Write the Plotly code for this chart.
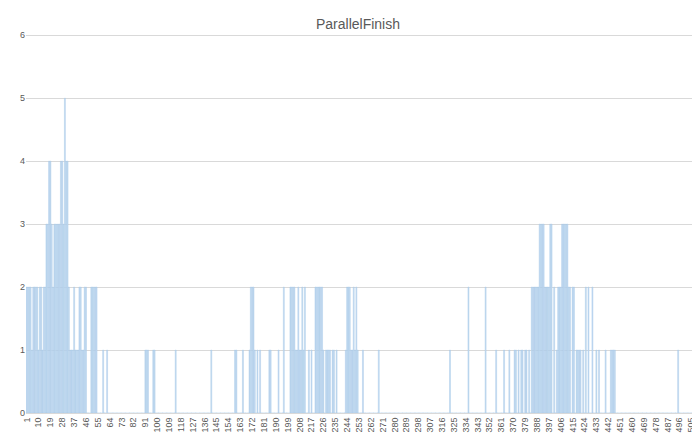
import plotly.graph_objects as go

# run number 1..505
runs = list(range(1, 506))

# nonzero counts (run -> value); all other runs are 0
hit_runs = [1, 2, 3, 4, 5, 6, 7, 8, 9, 10, 11, 12, 13, 14, 15, 16, 17, 18, 19, 20,
            21, 22, 23, 24, 25, 26, 27, 28, 29, 30, 31, 32, 33, 34, 35, 36, 37, 38, 39, 40,
            41, 42, 43, 44, 45, 46, 50, 51, 52, 53, 54, 59, 62,
            91, 92, 93, 97, 98, 114, 141, 159, 160, 165,
            170, 171, 172, 173, 174, 176, 178, 185, 186, 192, 196,
            201, 202, 203, 204, 205, 206, 207, 208, 209, 210, 211, 212,
            215, 217, 220, 221, 222, 223, 224, 225, 226, 228, 229, 230, 231, 233, 234, 236,
            243, 244, 245, 246, 247, 248, 249, 250, 251, 252, 256, 268,
            322, 336, 349, 357, 363, 367, 371, 372, 374, 376, 377, 379, 380, 382,
            384, 385, 386, 387, 388, 389, 390, 391, 392, 393, 394, 395, 396, 397, 398, 399,
            401, 403, 404, 405, 406, 407, 408, 409, 410, 411, 412, 413, 415, 416,
            418, 419, 420, 421, 423, 425, 427, 430, 433, 435, 440, 444, 445, 446, 447, 495]
hit_vals = [2, 2, 2, 2, 1, 2, 2, 2, 2, 1, 2, 2, 1, 2, 2, 3, 3, 4, 4, 3,
            2, 3, 3, 3, 3, 3, 4, 4, 3, 5, 4, 4, 2, 1, 1, 1, 2, 1, 1, 1,
            2, 2, 1, 1, 2, 2, 2, 2, 2, 2, 2, 1, 1,
            1, 1, 1, 1, 1, 1, 1, 1, 1, 1,
            1, 2, 2, 2, 1, 1, 1, 1, 1, 1, 2,
            2, 2, 2, 2, 1, 1, 2, 1, 1, 2, 1, 2,
            1, 1, 2, 2, 2, 2, 2, 2, 1, 1, 1, 1, 1, 1, 1, 1,
            1, 2, 2, 2, 1, 1, 2, 1, 2, 1, 1, 1,
            1, 2, 2, 1, 1, 1, 1, 1, 1, 1, 1, 1, 1, 1,
            2, 2, 2, 2, 2, 2, 3, 3, 3, 3, 2, 2, 2, 2, 3, 3,
            2, 1, 2, 2, 2, 3, 3, 3, 3, 3, 2, 2, 2, 2,
            1, 1, 1, 1, 1, 2, 2, 2, 1, 1, 1, 1, 1, 1, 1, 1]

counts = [0] * len(runs)
for r, v in zip(hit_runs, hit_vals):
    counts[r - 1] = v

tick_runs = list(range(1, 506, 9))

bar = go.Bar(x=runs, y=counts, marker=dict(color='#c9def2', line=dict(color='#9dc3e6', width=0.4)))
layout = go.Layout(
    title=dict(text='ParallelFinish', x=0.5, y=0.975, font=dict(family='Liberation Sans', size=14, color='#595959')),
    width=700, height=437,
    margin=dict(l=18, r=16, t=26, b=26),
    paper_bgcolor='white', plot_bgcolor='white',
    bargap=0.25, showlegend=False,
    xaxis=dict(tickmode='array', tickvals=tick_runs, ticktext=[str(t) for t in tick_runs],
               tickangle=-90, range=[0.5, 505.5], showgrid=False, showline=True, linecolor='#d9d9d9',
               tickfont=dict(family='Liberation Sans', size=9, color='#595959')),
    yaxis=dict(range=[0, 6.02], dtick=1, showgrid=True, gridcolor='#d9d9d9', zeroline=False,
               tickfont=dict(family='Liberation Sans', size=9, color='#595959')),
)
fig = go.Figure(data=bar, layout=layout)
fig.write_html('out.html')
